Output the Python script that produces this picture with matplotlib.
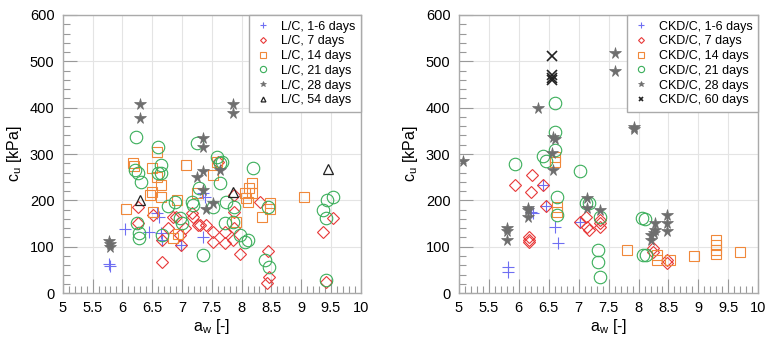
import numpy as np
import matplotlib.pyplot as plt
from matplotlib.ticker import MultipleLocator

plt.rcParams['font.family'] = ['Liberation Sans', 'DejaVu Sans']

# L/C data (a_w, c_u)
lc_1_6_x = [5.77, 5.79, 6.04, 6.44, 6.61, 6.58, 6.64, 6.66, 7.35, 7.38, 7.36, 6.98]
lc_1_6_y = [62, 58, 138, 132, 164, 173, 129, 114, 121, 207, 215, 104]

lc_7_x = [6.26, 6.26, 6.51, 6.66, 6.66, 6.76, 6.85, 6.9, 6.96, 6.98, 7.05, 7.16, 7.18,
          7.27, 7.3, 7.4, 7.52, 7.52, 7.72, 7.72, 7.85, 7.87, 7.87, 7.87, 7.97, 8.31,
          8.44, 8.42, 8.46, 9.36, 9.53, 9.42, 7.6]
lc_7_y = [186, 151, 168, 114, 67, 140, 164, 164, 125, 104, 140, 172, 164,
          146, 146, 146, 132, 110, 132, 108, 114, 175, 140, 212, 84, 196,
          91, 22, 34, 132, 162, 24, 283]

lc_14_x = [6.18, 6.19, 6.06, 6.49, 6.58, 6.64, 6.49, 6.46, 6.64, 6.51, 6.91, 6.85, 6.93,
           7.06, 7.25, 7.52, 7.58, 7.91, 8.05, 8.08, 8.12, 8.17, 8.17, 8.1, 8.34, 8.47,
           8.47, 9.04, 6.58]
lc_14_y = [280, 275, 181, 270, 251, 233, 218, 212, 207, 175, 200, 119, 127,
           276, 216, 255, 283, 153, 216, 205, 227, 237, 216, 196, 164, 194,
           181, 207, 305]

lc_21_x = [6.22, 6.6, 6.64, 6.21, 6.26, 6.32, 6.65, 6.76, 6.88, 6.24, 6.28, 6.28, 6.66,
           6.96, 7.0, 7.16, 7.18, 7.28, 7.35, 7.52, 7.63, 7.63, 7.73, 7.72, 7.85, 7.87,
           7.97, 8.05, 8.1, 8.19, 8.44, 8.4, 8.46, 9.36, 9.41, 9.43, 9.53, 9.42, 7.25,
           7.58, 7.67, 6.6]
lc_21_y = [336, 315, 276, 265, 259, 240, 259, 188, 196, 151, 129, 119, 125,
           162, 151, 196, 190, 227, 82, 186, 280, 237, 196, 151, 153, 186,
           125, 110, 114, 270, 186, 71, 56, 179, 162, 200, 207, 28, 324,
           294, 283, 259]

lc_28_x = [5.78, 5.8, 5.79, 6.3, 6.3, 7.35, 7.35, 7.35, 7.26, 7.35, 7.4, 7.52, 7.63,
           7.85, 7.86]
lc_28_y = [112, 105, 100, 408, 378, 335, 315, 263, 250, 222, 181, 194, 265,
           408, 388]

lc_54_x = [6.3, 7.85, 9.45]
lc_54_y = [200, 217, 268]

# CKD/C data
ckd_1_6_x = [5.82, 5.82, 6.2, 6.24, 6.6, 6.66, 6.46, 7.02, 6.41]
ckd_1_6_y = [56, 45, 175, 173, 142, 108, 188, 153, 233]

ckd_7_x = [5.94, 6.22, 6.2, 6.41, 6.46, 6.17, 6.17, 6.17, 7.02, 7.13, 7.14, 7.17,
           7.36, 7.36, 7.36, 8.24, 8.24, 8.48, 8.48]
ckd_7_y = [233, 255, 218, 233, 188, 121, 114, 110, 153, 164, 142, 136,
           158, 151, 142, 97, 89, 71, 65]

ckd_14_x = [6.61, 6.61, 6.64, 6.64, 7.8, 8.3, 8.3, 8.52, 8.92, 9.3, 9.3, 9.3, 9.3, 9.7]
ckd_14_y = [293, 283, 186, 175, 92, 82, 71, 71, 81, 114, 104, 93, 84, 88]

ckd_21_x = [6.61, 6.61, 6.61, 6.4, 6.46, 5.94, 7.03, 6.64, 6.64, 7.12, 7.17, 7.36,
            7.33, 7.33, 7.36, 8.05, 8.11, 8.07, 8.13]
ckd_21_y = [410, 348, 309, 296, 285, 278, 263, 207, 168, 194, 194, 164,
            93, 67, 35, 162, 159, 82, 82]

ckd_28_x = [5.07, 6.32, 7.6, 7.6, 7.92, 7.92, 6.58, 6.6, 6.56, 6.58, 5.8, 5.8, 5.8,
            6.16, 6.16, 6.16, 7.14, 7.14, 7.36, 8.2, 8.2, 8.25, 8.28, 8.28, 8.48,
            8.48, 8.48]
ckd_28_y = [285, 400, 518, 479, 358, 354, 337, 333, 302, 265, 140, 133, 114,
            183, 180, 164, 205, 183, 179, 125, 114, 130, 151, 136, 168,
            151, 133]

ckd_60_x = [6.55, 6.55, 6.55, 6.55]
ckd_60_y = [512, 470, 465, 460]

# style per series
styles = {
    '1-6': dict(marker='+', color='#6f6ff2', ms=8, mew=0.8, fill=True),
    '7': dict(marker='D', color='#e83838', ms=6, mew=0.8, fill=False),
    '14': dict(marker='s', color='#f0883a', ms=7.5, mew=0.8, fill=False),
    '21': dict(marker='o', color='#3aae5a', ms=9, mew=0.8, fill=False),
    '28': dict(marker='*', color='#6e6e6e', ms=8.5, mew=0.5, fill=True),
    '54': dict(marker='^', color='#222222', ms=7, mew=0.9, fill=False),
    '60': dict(marker='x', color='#222222', ms=7, mew=1.2, fill=True),
}


def draw(ax, series, prefix):
    for key, label, xs, ys in series:
        st = styles[key]
        face = st['color'] if st['fill'] else 'none'
        ax.plot(xs, ys, linestyle='none', marker=st['marker'], ms=st['ms'],
                mec=st['color'], mfc=face, mew=st['mew'],
                label=f'{prefix}, {label}')
    ax.set_xlim(5, 10)
    ax.set_ylim(0, 600)
    ax.xaxis.set_major_locator(MultipleLocator(0.5))
    ax.xaxis.set_minor_locator(MultipleLocator(0.1))
    ax.yaxis.set_major_locator(MultipleLocator(100))
    ax.yaxis.set_minor_locator(MultipleLocator(20))
    ax.xaxis.set_major_formatter(plt.FuncFormatter(lambda v, p: f'{v:g}'))
    ax.grid(True, which='major', color='#e4e4e4', lw=0.8)
    ax.set_axisbelow(True)
    ax.tick_params(which='major', direction='in', length=10, width=0.8,
                   color='#999999', labelsize=10.5, pad=6)
    ax.tick_params(which='minor', direction='in', length=5, width=0.8,
                   color='#999999')
    for s in ax.spines.values():
        s.set_color('#aaaaaa')
        s.set_linewidth(1.0)
    ax.set_xlabel('a$_\\mathregular{w}$ [-]', fontsize=11.5, labelpad=1)
    ax.set_ylabel('c$_\\mathregular{u}$ [kPa]', fontsize=11.5, labelpad=4)
    leg = ax.legend(loc='upper right', fontsize=9, markerscale=0.5,
                    fancybox=False, framealpha=1, edgecolor='#aaaaaa',
                    handletextpad=0.7, borderpad=0.45, labelspacing=0.22,
                    handlelength=1.4, borderaxespad=0)
    leg.get_frame().set_linewidth(1.0)


fig = plt.figure(figsize=(7.66, 3.40), dpi=100)
ax1 = fig.add_axes([0.082, 0.138, 0.389, 0.818])
ax2 = fig.add_axes([0.599, 0.138, 0.391, 0.818])

draw(ax1, [
    ('1-6', '1-6 days', lc_1_6_x, lc_1_6_y),
    ('7', '7 days', lc_7_x, lc_7_y),
    ('14', '14 days', lc_14_x, lc_14_y),
    ('21', '21 days', lc_21_x, lc_21_y),
    ('28', '28 days', lc_28_x, lc_28_y),
    ('54', '54 days', lc_54_x, lc_54_y),
], 'L/C')

draw(ax2, [
    ('1-6', '1-6 days', ckd_1_6_x, ckd_1_6_y),
    ('7', '7 days', ckd_7_x, ckd_7_y),
    ('14', '14 days', ckd_14_x, ckd_14_y),
    ('21', '21 days', ckd_21_x, ckd_21_y),
    ('28', '28 days', ckd_28_x, ckd_28_y),
    ('60', '60 days', ckd_60_x, ckd_60_y),
], 'CKD/C')

fig.savefig('out.png', dpi=100)
